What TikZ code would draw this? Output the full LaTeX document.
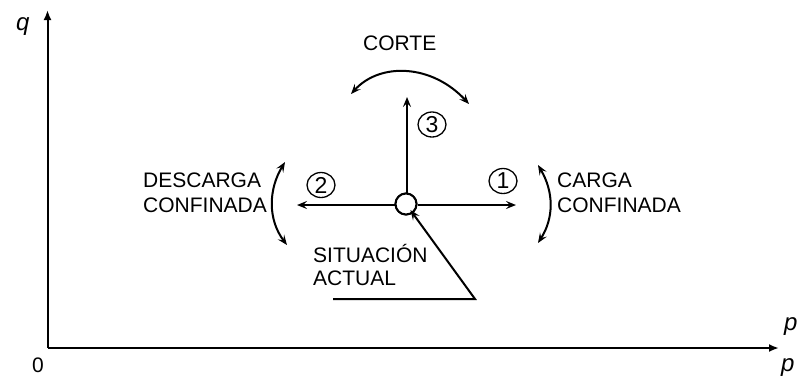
\documentclass[tikz,border=0pt]{standalone}
\usepackage{fontspec}
\setmainfont{Liberation Sans}
\usetikzlibrary{arrows.meta,shapes.geometric}
\begin{document}
\begin{tikzpicture}[x=1pt,y=-1pt,
  lbl/.style={inner sep=0pt,anchor=base west,font=\fontsize{21}{24}\selectfont},
  axlbl/.style={inner sep=0pt,anchor=base west,font=\fontsize{24}{26}\selectfont\itshape},
  num/.style={draw,line width=1.3pt,ellipse,minimum width=28pt,minimum height=25pt,inner sep=0pt,font=\fontsize{23}{24}\selectfont},
  ax/.style={line width=2pt,-{Latex[length=10pt,width=8pt]}},
  arr/.style={line width=2pt,-{Stealth[length=10pt,width=8pt,inset=4pt]}},
  darr/.style={line width=2pt,{Stealth[length=10pt,width=8pt,inset=4pt]}-{Stealth[length=10pt,width=8pt,inset=4pt]}},
  ptc/.style={draw,circle,line width=2pt,minimum size=21pt,inner sep=0pt,fill=white}]
\useasboundingbox (0,0) rectangle (800,376);
% axes
\coordinate (o) at (47.5,348);
\coordinate (qt) at (47.5,10);
\coordinate (pt) at (779,348);
\draw[ax] (o) -- (qt);
\draw[ax] (o) -- (pt);
\node[axlbl] (q) at (16,30) {q};
\node[lbl] (zero) at (32,372) {0};
\node[axlbl] (p1) at (784,330) {p};
\node[axlbl] (p2) at (781,371) {p};
% central point
\node[ptc] (c) at (406,204) {};
\coordinate (l) at (297,205);
\coordinate (r) at (516,205);
\coordinate (u) at (407,97);
\draw[arr] (c.west|-l) -- (l);
\draw[arr] (c.east|-r) -- (r);
\draw[arr] (c.north-|u) -- (u);
\node[ptc] at (c) {};
% numbers
\node[num] (n1) at (503,181) {1};
\node[num] (n2) at (321,185) {2};
\node[num] (n3) at (432,124.5) {3};
% curved double arrows
\coordinate (ca) at (351,94);
\coordinate (cb) at (469,104);
\draw[darr] (ca) .. controls (380,62) and (432,64) .. (cb);
\coordinate (la) at (285,162);
\coordinate (lb) at (287,245);
\draw[darr] (la) .. controls (268,190) and (268,220) .. (lb);
\coordinate (ra) at (538,165);
\coordinate (rb) at (538,243);
\draw[darr] (ra) .. controls (554,192) and (554,218) .. (rb);
% labels
\node[lbl] (corte) at (363,50) {CORTE};
\node[lbl] (d1) at (143,187) {DESCARGA};
\node[lbl] (d2) at (143,212) {CONFINADA};
\node[lbl] (c1) at (557,187) {CARGA};
\node[lbl] (c2) at (557,212) {CONFINADA};
\node[lbl] (s1) at (313,262) {SITUACIÓN};
\node[lbl] (s2) at (313,285) {ACTUAL};
% pointer
\coordinate (pa) at (333,299);
\coordinate (pb) at (475,299);
\draw[line width=2pt,-{Stealth[length=10pt,width=8pt,inset=4pt]},shorten >=-4pt] (pa) -- (pb) -- (c);
\end{tikzpicture}
\end{document}
